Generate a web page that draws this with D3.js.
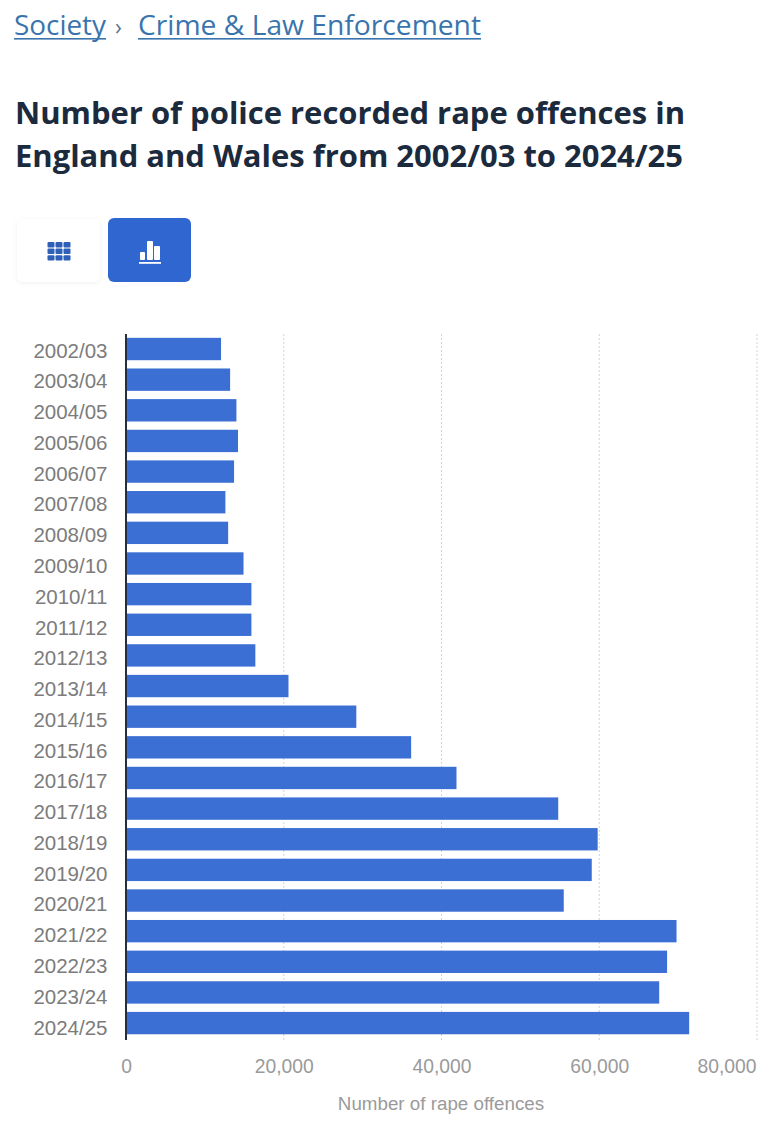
<!DOCTYPE html>
<html><head><meta charset="utf-8">
<script src="https://cdn.jsdelivr.net/npm/d3@7"></script>
<style>html,body{margin:0;padding:0;background:#fff;overflow:hidden}svg{display:block}</style>
</head><body><div id="c"></div>
<script>
const categories=["2002/03","2003/04","2004/05","2005/06","2006/07","2007/08","2008/09","2009/10","2010/11","2011/12","2012/13","2013/14","2014/15","2015/16","2016/17","2017/18","2018/19","2019/20","2020/21","2021/22","2022/23","2023/24","2024/25"];
const offences=[12050,13200,14000,14200,13700,12600,12950,14900,15900,15900,16400,20600,29200,36150,41900,54800,59800,59050,55500,69800,68600,67600,71400];
const xTicks=[0,20000,40000,60000,80000];
const titleLines=["Number of police recorded rape offences in","England and Wales from 2002/03 to 2024/25"];
const xAxisLabel="Number of rape offences";

const svg=d3.select("#c").append("svg").attr("width",776).attr("height",1125);
const x=d3.scaleLinear().domain([0,80000]).range([126,757]);
const y=d3.scaleBand().domain(categories).range([333.7,1038.4]).paddingInner(0.27).paddingOuter(0.135);
const yLabel=d3.scalePoint().domain(categories).range([350.5,1027.5]);

// breadcrumb
const crumb=svg.append("g").attr("font-family","'Open Sans'").attr("font-size",28).attr("fill","#3a74ad");
const fit=(t,w)=>t.attr("textLength",w).attr("lengthAdjust","spacingAndGlyphs");
fit(crumb.append("text").attr("x",14).attr("y",35).text("Society"),92);
crumb.append("text").attr("x",115).attr("y",35).attr("font-size",23).attr("fill","#5a7590").text("›");
fit(crumb.append("text").attr("x",138).attr("y",35).text("Crime & Law Enforcement"),343);
crumb.append("rect").attr("x",14).attr("y",38).attr("width",92).attr("height",1.6);
crumb.append("rect").attr("x",138).attr("y",38).attr("width",343).attr("height",1.6);

// title
svg.append("g").selectAll("text").data(titleLines).join("text")
 .attr("x",15).attr("y",(d,i)=>124+i*43)
 .attr("font-family","'Open Sans'").attr("font-weight",700).attr("font-size",30).attr("fill","#1b2a3d")
 .attr("textLength",(d,i)=>i?668:670).attr("lengthAdjust","spacingAndGlyphs").text(d=>d);

// view buttons
const defs=svg.append("defs");
const f=defs.append("filter").attr("id","sh").attr("x","-20%").attr("y","-20%").attr("width","140%").attr("height","140%");
f.append("feDropShadow").attr("dx",0).attr("dy",1).attr("stdDeviation",2.5).attr("flood-color","#000").attr("flood-opacity",0.06);
svg.append("rect").attr("x",17).attr("y",219).attr("width",83).attr("height",63).attr("rx",6).attr("fill","#fff").attr("filter","url(#sh)");
svg.append("rect").attr("x",108).attr("y",218).attr("width",83).attr("height",64).attr("rx",6).attr("fill","#2f66d0");
const grid=svg.append("g").attr("fill","#2f60b8");
d3.range(3).forEach(r=>d3.range(3).forEach(c=>grid.append("rect").attr("x",47.5+c*8).attr("y",242+r*6.6).attr("width",7).attr("height",5.4).attr("rx",1)));
const ic=svg.append("g").attr("fill","#fff");
[[140,252,5,8],[147,241,6,19],[154,246,6,14]].forEach(b=>ic.append("rect").attr("x",b[0]).attr("y",b[1]).attr("width",b[2]).attr("height",b[3]).attr("rx",1));
ic.append("rect").attr("x",139).attr("y",262).attr("width",22).attr("height",1.8);

// gridlines
svg.append("g").selectAll("line").data(xTicks.slice(1)).join("line")
 .attr("x1",d=>x(d)).attr("x2",d=>x(d)).attr("y1",334).attr("y2",1040)
 .attr("stroke","#cfd3d8").attr("stroke-width",1).attr("stroke-dasharray","2 2");

// bars
svg.append("g").selectAll("rect").data(categories).join("rect")
 .attr("x",x(0)).attr("y",d=>y(d)).attr("height",y.bandwidth())
 .attr("width",(d,i)=>x(offences[i])-x(0)).attr("fill","#3b6fd4");

// category axis
const yAxis=svg.append("g").attr("transform","translate(126,0)").call(d3.axisLeft(yLabel).tickSize(0).tickPadding(18.5));
yAxis.select(".domain").attr("stroke","#26303c").attr("stroke-width",2).attr("d","M0,334V1040");
yAxis.selectAll("text").attr("font-family","'Liberation Sans'").attr("font-size",20.5).attr("fill","#7c7c7c");

// value axis
const xAxis=svg.append("g").attr("transform","translate(0,1067)")
 .call(d3.axisBottom(x).tickValues(xTicks).tickSize(0).tickPadding(0).tickFormat(d3.format(",")));
xAxis.select(".domain").remove();
xAxis.selectAll("text").attr("font-family","'Liberation Sans'").attr("font-size",19.3).attr("fill","#9a9a9a").attr("dy","0.32em").attr("y",0);
xAxis.selectAll(".tick").filter(d=>d===80000).select("text").attr("text-anchor","end").attr("x",-1);

svg.append("text").attr("x",441).attr("y",1110).attr("text-anchor","middle")
 .attr("font-family","'Liberation Sans'").attr("font-size",18.8).attr("fill","#9a9a9a").text(xAxisLabel);
</script></body></html>
